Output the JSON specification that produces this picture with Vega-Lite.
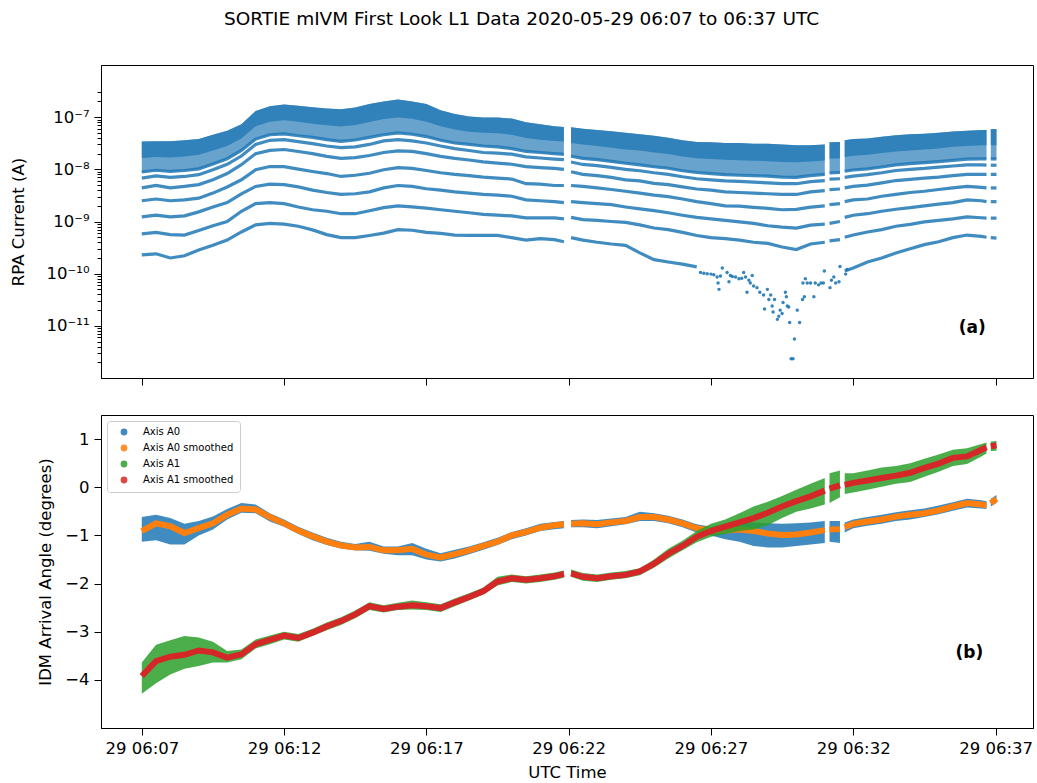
{
"$schema":"https://vega.github.io/schema/vega-lite/v6.json",
"padding":{"left":9,"top":10,"right":0,"bottom":0},
"title":{"text":"SORTIE mIVM First Look L1 Data 2020-05-29 06:07 to 06:37 UTC","fontSize":18.5,"fontWeight":"normal","font":"DejaVu Sans","anchor":"middle","frame":"bounds","offset":36,"color":"black"},
"config":{"font":"DejaVu Sans","view":{"stroke":"black","strokeWidth":1},"axis":{"domainColor":"black","tickColor":"black","labelColor":"black","titleColor":"black","labelFontSize":16.5,"titleFontSize":16.5,"titleFontWeight":"normal","labelFont":"DejaVu Sans","titleFont":"DejaVu Sans","grid":false,"tickSize":7,"labelPadding":5},"concat":{"spacing":28}},
"resolve":{"scale":{"color":"independent"},"legend":{"color":"independent"}},
"datasets":{
"rpa":[
{"t":"2020-05-29 06:07:00","s":"A","top":3.4e-8,"m":1.65e-8,"l6":8.9e-9,"l5":6.8e-9,"l4":4.4e-9,"l3":2.5e-9,"l2":1.23e-9,"l1":5.8e-10,"l0":2.3e-10},
{"t":"2020-05-29 06:07:30","s":"A","top":3.45e-8,"m":1.73e-8,"l6":9.6e-9,"l5":7.5e-9,"l4":4.9e-9,"l3":2.7e-9,"l2":1.33e-9,"l1":6.2e-10,"l0":2.4e-10},
{"t":"2020-05-29 06:08:00","s":"A","top":3.45e-8,"m":1.68e-8,"l6":9.1e-9,"l5":7.0e-9,"l4":4.4e-9,"l3":2.5e-9,"l2":1.23e-9,"l1":5.6e-10,"l0":2.0e-10},
{"t":"2020-05-29 06:08:30","s":"A","top":3.6e-8,"m":1.76e-8,"l6":9.5e-9,"l5":7.3e-9,"l4":4.7e-9,"l3":2.6e-9,"l2":1.28e-9,"l1":5.5e-10,"l0":2.2e-10},
{"t":"2020-05-29 06:09:00","s":"A","top":3.8e-8,"m":1.9e-8,"l6":1.02e-8,"l5":7.9e-9,"l4":5.1e-9,"l3":2.8e-9,"l2":1.53e-9,"l1":6.7e-10,"l0":2.85e-10},
{"t":"2020-05-29 06:09:30","s":"A","top":4.6e-8,"m":2.3e-8,"l6":1.26e-8,"l5":9.8e-9,"l4":6.3e-9,"l3":3.5e-9,"l2":1.9e-9,"l1":8.3e-10,"l0":3.5e-10},
{"t":"2020-05-29 06:10:00","s":"A","top":5.5e-8,"m":2.8e-8,"l6":1.6e-8,"l5":1.25e-8,"l4":8.3e-9,"l3":4.6e-9,"l2":2.3e-9,"l1":1.0e-9,"l0":4.4e-10},
{"t":"2020-05-29 06:10:30","s":"A","top":7.3e-8,"m":3.9e-8,"l6":2.3e-8,"l5":1.8e-8,"l4":1.23e-8,"l3":6.3e-9,"l2":3.4e-9,"l1":1.57e-9,"l0":6.3e-10},
{"t":"2020-05-29 06:11:00","s":"A","top":1.31e-7,"m":6.7e-8,"l6":3.8e-8,"l5":3.0e-8,"l4":2.0e-8,"l3":9.8e-9,"l2":4.7e-9,"l1":2.2e-9,"l0":8.6e-10},
{"t":"2020-05-29 06:11:30","s":"A","top":1.62e-7,"m":8.2e-8,"l6":4.6e-8,"l5":3.6e-8,"l4":2.3e-8,"l3":1.13e-8,"l2":5.2e-9,"l1":2.3e-9,"l0":9.2e-10},
{"t":"2020-05-29 06:12:00","s":"A","top":1.75e-7,"m":8.7e-8,"l6":4.8e-8,"l5":3.7e-8,"l4":2.4e-8,"l3":1.13e-8,"l2":5.1e-9,"l1":2.2e-9,"l0":8.9e-10},
{"t":"2020-05-29 06:12:30","s":"A","top":1.66e-7,"m":8.2e-8,"l6":4.4e-8,"l5":3.4e-8,"l4":2.2e-8,"l3":1.01e-8,"l2":4.6e-9,"l1":1.9e-9,"l0":8.1e-10},
{"t":"2020-05-29 06:13:00","s":"A","top":1.55e-7,"m":7.5e-8,"l6":4.1e-8,"l5":3.1e-8,"l4":2.0e-8,"l3":9.1e-9,"l2":4.0e-9,"l1":1.68e-9,"l0":6.9e-10},
{"t":"2020-05-29 06:13:30","s":"A","top":1.47e-7,"m":7.0e-8,"l6":3.7e-8,"l5":2.8e-8,"l4":1.77e-8,"l3":8.3e-9,"l2":3.6e-9,"l1":1.57e-9,"l0":5.6e-10},
{"t":"2020-05-29 06:14:00","s":"A","top":1.42e-7,"m":6.6e-8,"l6":3.45e-8,"l5":2.6e-8,"l4":1.62e-8,"l3":7.3e-9,"l2":3.3e-9,"l1":1.41e-9,"l0":4.9e-10},
{"t":"2020-05-29 06:14:30","s":"A","top":1.53e-7,"m":7.1e-8,"l6":3.65e-8,"l5":2.7e-8,"l4":1.68e-8,"l3":7.7e-9,"l2":3.4e-9,"l1":1.41e-9,"l0":4.9e-10},
{"t":"2020-05-29 06:15:00","s":"A","top":1.78e-7,"m":8.1e-8,"l6":4.1e-8,"l5":3.0e-8,"l4":1.84e-8,"l3":8.4e-9,"l2":3.7e-9,"l1":1.61e-9,"l0":5.4e-10},
{"t":"2020-05-29 06:15:30","s":"A","top":2.0e-7,"m":9.2e-8,"l6":4.6e-8,"l5":3.5e-8,"l4":2.1e-8,"l3":9.8e-9,"l2":4.4e-9,"l1":1.84e-9,"l0":6.0e-10},
{"t":"2020-05-29 06:16:00","s":"A","top":2.17e-7,"m":9.8e-8,"l6":5.0e-8,"l5":3.7e-8,"l4":2.25e-8,"l3":1.08e-8,"l2":4.9e-9,"l1":2.0e-9,"l0":7.0e-10},
{"t":"2020-05-29 06:16:30","s":"A","top":2.0e-7,"m":9.3e-8,"l6":4.7e-8,"l5":3.5e-8,"l4":2.2e-8,"l3":1.04e-8,"l2":4.7e-9,"l1":1.9e-9,"l0":6.8e-10},
{"t":"2020-05-29 06:17:00","s":"A","top":1.78e-7,"m":8.2e-8,"l6":4.25e-8,"l5":3.2e-8,"l4":2.0e-8,"l3":9.5e-9,"l2":4.25e-9,"l1":1.8e-9,"l0":6.2e-10},
{"t":"2020-05-29 06:17:30","s":"A","top":1.36e-7,"m":6.7e-8,"l6":3.6e-8,"l5":2.8e-8,"l4":1.77e-8,"l3":8.6e-9,"l2":4.0e-9,"l1":1.68e-9,"l0":5.9e-10},
{"t":"2020-05-29 06:18:00","s":"A","top":1.15e-7,"m":5.8e-8,"l6":3.2e-8,"l5":2.5e-8,"l4":1.62e-8,"l3":8.0e-9,"l2":3.7e-9,"l1":1.57e-9,"l0":5.5e-10},
{"t":"2020-05-29 06:18:30","s":"A","top":1.03e-7,"m":5.25e-8,"l6":3.0e-8,"l5":2.3e-8,"l4":1.51e-8,"l3":7.6e-9,"l2":3.5e-9,"l1":1.47e-9,"l0":5.4e-10},
{"t":"2020-05-29 06:19:00","s":"A","top":9.9e-8,"m":5.0e-8,"l6":2.8e-8,"l5":2.1e-8,"l4":1.39e-8,"l3":7.1e-9,"l2":3.3e-9,"l1":1.37e-9,"l0":5.4e-10},
{"t":"2020-05-29 06:19:30","s":"A","top":9.8e-8,"m":4.9e-8,"l6":2.7e-8,"l5":2.05e-8,"l4":1.32e-8,"l3":6.8e-9,"l2":3.2e-9,"l1":1.33e-9,"l0":5.4e-10},
{"t":"2020-05-29 06:20:00","s":"A","top":9.4e-8,"m":4.6e-8,"l6":2.5e-8,"l5":1.95e-8,"l4":1.25e-8,"l3":6.5e-9,"l2":3.05e-9,"l1":1.28e-9,"l0":4.9e-10},
{"t":"2020-05-29 06:20:30","s":"A","top":8.0e-8,"m":4.0e-8,"l6":2.2e-8,"l5":1.73e-8,"l4":1.13e-8,"l3":5.3e-9,"l2":2.6e-9,"l1":1.17e-9,"l0":4.4e-10},
{"t":"2020-05-29 06:21:00","s":"A","top":7.3e-8,"m":3.7e-8,"l6":2.1e-8,"l5":1.65e-8,"l4":1.08e-8,"l3":5.2e-9,"l2":2.5e-9,"l1":1.17e-9,"l0":4.7e-10},
{"t":"2020-05-29 06:21:30","s":"A","top":6.7e-8,"m":3.5e-8,"l6":2.0e-8,"l5":1.57e-8,"l4":1.04e-8,"l3":4.9e-9,"l2":2.4e-9,"l1":1.17e-9,"l0":4.5e-10},
{"t":"2020-05-29 06:21:50","s":"A","top":6.5e-8,"m":3.4e-8,"l6":1.94e-8,"l5":1.53e-8,"l4":1.0e-8,"l3":4.9e-9,"l2":2.3e-9,"l1":1.12e-9,"l0":4.1e-10},
{"t":"2020-05-29 06:22:05","s":"B","top":6.4e-8,"m":3.2e-8,"l6":1.78e-8,"l5":1.38e-8,"l4":9.0e-9,"l3":4.9e-9,"l2":2.4e-9,"l1":1.2e-9,"l0":4.9e-10},
{"t":"2020-05-29 06:22:30","s":"B","top":6.0e-8,"m":3.0e-8,"l6":1.62e-8,"l5":1.24e-8,"l4":8.0e-9,"l3":4.7e-9,"l2":2.3e-9,"l1":1.09e-9,"l0":4.4e-10},
{"t":"2020-05-29 06:23:00","s":"B","top":5.65e-8,"m":2.8e-8,"l6":1.53e-8,"l5":1.18e-8,"l4":7.6e-9,"l3":4.4e-9,"l2":2.2e-9,"l1":1.05e-9,"l0":4.0e-10},
{"t":"2020-05-29 06:23:30","s":"B","top":5.4e-8,"m":2.6e-8,"l6":1.42e-8,"l5":1.09e-8,"l4":7.0e-9,"l3":4.1e-9,"l2":2.1e-9,"l1":1.0e-9,"l0":3.7e-10},
{"t":"2020-05-29 06:24:00","s":"B","top":5.0e-8,"m":2.4e-8,"l6":1.31e-8,"l5":1.0e-8,"l4":6.3e-9,"l3":3.8e-9,"l2":1.9e-9,"l1":9.6e-10,"l0":3.5e-10},
{"t":"2020-05-29 06:24:30","s":"B","top":4.7e-8,"m":2.3e-8,"l6":1.22e-8,"l5":9.4e-9,"l4":6.0e-9,"l3":3.5e-9,"l2":1.74e-9,"l1":8.6e-10,"l0":2.5e-10},
{"t":"2020-05-29 06:25:00","s":"B","top":4.4e-8,"m":2.1e-8,"l6":1.12e-8,"l5":8.6e-9,"l4":5.4e-9,"l3":3.2e-9,"l2":1.61e-9,"l1":7.5e-10,"l0":1.86e-10},
{"t":"2020-05-29 06:25:30","s":"B","top":4.05e-8,"m":1.96e-8,"l6":1.05e-8,"l5":8.0e-9,"l4":5.1e-9,"l3":3.0e-9,"l2":1.47e-9,"l1":7.0e-10,"l0":1.67e-10},
{"t":"2020-05-29 06:26:00","s":"B","top":3.6e-8,"m":1.76e-8,"l6":9.4e-9,"l5":7.2e-9,"l4":4.6e-9,"l3":2.7e-9,"l2":1.32e-9,"l1":6.2e-10,"l0":1.52e-10},
{"t":"2020-05-29 06:26:30","s":"B","top":3.35e-8,"m":1.63e-8,"l6":8.7e-9,"l5":6.6e-9,"l4":4.2e-9,"l3":2.4e-9,"l2":1.2e-9,"l1":5.4e-10,"l0":1.35e-10},
{"t":"2020-05-29 06:27:00","s":"B","top":3.3e-8,"m":1.57e-8,"l6":8.3e-9,"l5":6.3e-9,"l4":4.0e-9,"l3":2.2e-9,"l2":1.12e-9,"l1":4.9e-10,"l0":null},
{"t":"2020-05-29 06:27:30","s":"B","top":3.2e-8,"m":1.52e-8,"l6":7.9e-9,"l5":6.0e-9,"l4":3.7e-9,"l3":2.0e-9,"l2":1.05e-9,"l1":4.7e-10,"l0":null},
{"t":"2020-05-29 06:28:00","s":"B","top":3.2e-8,"m":1.49e-8,"l6":7.7e-9,"l5":5.9e-9,"l4":3.6e-9,"l3":1.97e-9,"l2":9.8e-10,"l1":4.4e-10,"l0":null},
{"t":"2020-05-29 06:28:30","s":"B","top":3.1e-8,"m":1.46e-8,"l6":7.6e-9,"l5":5.7e-9,"l4":3.5e-9,"l3":1.87e-9,"l2":9.2e-10,"l1":4.0e-10,"l0":null},
{"t":"2020-05-29 06:29:00","s":"B","top":3.1e-8,"m":1.43e-8,"l6":7.4e-9,"l5":5.5e-9,"l4":3.4e-9,"l3":1.79e-9,"l2":8.3e-10,"l1":3.8e-10,"l0":null},
{"t":"2020-05-29 06:29:30","s":"B","top":3.0e-8,"m":1.38e-8,"l6":7.1e-9,"l5":5.3e-9,"l4":3.3e-9,"l3":1.68e-9,"l2":7.8e-10,"l1":3.25e-10,"l0":null},
{"t":"2020-05-29 06:30:00","s":"B","top":2.9e-8,"m":1.36e-8,"l6":7.0e-9,"l5":5.3e-9,"l4":3.3e-9,"l3":1.71e-9,"l2":7.5e-10,"l1":2.9e-10,"l0":null},
{"t":"2020-05-29 06:30:30","s":"B","top":2.9e-8,"m":1.41e-8,"l6":7.6e-9,"l5":5.8e-9,"l4":3.7e-9,"l3":1.89e-9,"l2":8.5e-10,"l1":3.7e-10,"l0":null},
{"t":"2020-05-29 06:31:00","s":"B","top":3.0e-8,"m":1.47e-8,"l6":8.0e-9,"l5":6.1e-9,"l4":3.9e-9,"l3":2.0e-9,"l2":8.9e-10,"l1":4.0e-10,"l0":null},
{"t":"2020-05-29 06:31:10","s":"C","top":3.3e-8,"m":1.6e-8,"l6":8.5e-9,"l5":6.5e-9,"l4":4.1e-9,"l3":2.1e-9,"l2":9.2e-10,"l1":4.25e-10,"l0":null},
{"t":"2020-05-29 06:31:32","s":"C","top":3.35e-8,"m":1.63e-8,"l6":8.7e-9,"l5":6.6e-9,"l4":4.2e-9,"l3":2.2e-9,"l2":1.0e-9,"l1":4.5e-10,"l0":null},
{"t":"2020-05-29 06:31:42","s":"D","top":3.6e-8,"m":1.73e-8,"l6":9.2e-9,"l5":7.0e-9,"l4":4.4e-9,"l3":2.4e-9,"l2":1.2e-9,"l1":5.0e-10,"l0":1.12e-10},
{"t":"2020-05-29 06:32:00","s":"D","top":3.8e-8,"m":1.82e-8,"l6":9.7e-9,"l5":7.4e-9,"l4":4.7e-9,"l3":2.6e-9,"l2":1.32e-9,"l1":5.5e-10,"l0":1.28e-10},
{"t":"2020-05-29 06:32:30","s":"D","top":3.9e-8,"m":1.91e-8,"l6":1.02e-8,"l5":7.9e-9,"l4":5.0e-9,"l3":2.7e-9,"l2":1.41e-9,"l1":6.3e-10,"l0":1.67e-10},
{"t":"2020-05-29 06:33:00","s":"D","top":4.2e-8,"m":2.06e-8,"l6":1.11e-8,"l5":8.6e-9,"l4":5.5e-9,"l3":3.05e-9,"l2":1.57e-9,"l1":7.0e-10,"l0":2.0e-10},
{"t":"2020-05-29 06:33:30","s":"D","top":4.5e-8,"m":2.2e-8,"l6":1.22e-8,"l5":9.5e-9,"l4":6.1e-9,"l3":3.3e-9,"l2":1.72e-9,"l1":8.1e-10,"l0":2.5e-10},
{"t":"2020-05-29 06:34:00","s":"D","top":4.7e-8,"m":2.3e-8,"l6":1.29e-8,"l5":1.0e-8,"l4":6.4e-9,"l3":3.6e-9,"l2":1.84e-9,"l1":8.8e-10,"l0":3.0e-10},
{"t":"2020-05-29 06:34:30","s":"D","top":4.8e-8,"m":2.4e-8,"l6":1.34e-8,"l5":1.04e-8,"l4":6.8e-9,"l3":3.8e-9,"l2":2.0e-9,"l1":9.8e-10,"l0":3.6e-10},
{"t":"2020-05-29 06:35:00","s":"D","top":5.0e-8,"m":2.5e-8,"l6":1.41e-8,"l5":1.1e-8,"l4":7.1e-9,"l3":4.1e-9,"l2":2.15e-9,"l1":1.05e-9,"l0":4.1e-10},
{"t":"2020-05-29 06:35:30","s":"D","top":5.3e-8,"m":2.7e-8,"l6":1.49e-8,"l5":1.16e-8,"l4":7.6e-9,"l3":4.4e-9,"l2":2.3e-9,"l1":1.12e-9,"l0":4.9e-10},
{"t":"2020-05-29 06:36:00","s":"D","top":5.5e-8,"m":2.8e-8,"l6":1.57e-8,"l5":1.22e-8,"l4":8.0e-9,"l3":4.7e-9,"l2":2.6e-9,"l1":1.23e-9,"l0":5.5e-10},
{"t":"2020-05-29 06:36:30","s":"D","top":5.7e-8,"m":2.9e-8,"l6":1.59e-8,"l5":1.22e-8,"l4":8.0e-9,"l3":4.5e-9,"l2":2.5e-9,"l1":1.18e-9,"l0":5.2e-10},
{"t":"2020-05-29 06:36:41","s":"D","top":5.7e-8,"m":2.9e-8,"l6":1.58e-8,"l5":1.2e-8,"l4":8.0e-9,"l3":4.4e-9,"l2":2.4e-9,"l1":1.16e-9,"l0":5.0e-10},
{"t":"2020-05-29 06:36:50","s":"E","top":5.9e-8,"m":2.9e-8,"l6":1.58e-8,"l5":1.2e-8,"l4":8.0e-9,"l3":4.4e-9,"l2":2.4e-9,"l1":1.16e-9,"l0":4.9e-10},
{"t":"2020-05-29 06:37:02","s":"E","top":5.9e-8,"m":2.9e-8,"l6":1.58e-8,"l5":1.2e-8,"l4":8.0e-9,"l3":4.4e-9,"l2":2.4e-9,"l1":1.16e-9,"l0":4.8e-10}
],
"idm":[
{"t":"2020-05-29 06:07:00","s":"A","a0":-0.91,"a0lo":-1.13,"a0hi":-0.62,"a1":-3.92,"a1lo":-4.29,"a1hi":-3.64},
{"t":"2020-05-29 06:07:30","s":"A","a0":-0.75,"a0lo":-1.10,"a0hi":-0.57,"a1":-3.61,"a1lo":-4.07,"a1hi":-3.27},
{"t":"2020-05-29 06:08:00","s":"A","a0":-0.81,"a0lo":-1.19,"a0hi":-0.64,"a1":-3.52,"a1lo":-3.89,"a1hi":-3.18},
{"t":"2020-05-29 06:08:30","s":"A","a0":-0.95,"a0lo":-1.19,"a0hi":-0.76,"a1":-3.48,"a1lo":-3.77,"a1hi":-3.09},
{"t":"2020-05-29 06:09:00","s":"A","a0":-0.85,"a0lo":-1.00,"a0hi":-0.70,"a1":-3.39,"a1lo":-3.71,"a1hi":-3.12},
{"t":"2020-05-29 06:09:30","s":"A","a0":-0.75,"a0lo":-0.88,"a0hi":-0.61,"a1":-3.43,"a1lo":-3.64,"a1hi":-3.21},
{"t":"2020-05-29 06:10:00","s":"A","a0":-0.57,"a0lo":-0.67,"a0hi":-0.45,"a1":-3.54,"a1lo":-3.64,"a1hi":-3.40},
{"t":"2020-05-29 06:10:30","s":"A","a0":-0.44,"a0lo":-0.53,"a0hi":-0.33,"a1":-3.47,"a1lo":-3.57,"a1hi":-3.37},
{"t":"2020-05-29 06:11:00","s":"A","a0":-0.46,"a0lo":-0.54,"a0hi":-0.36,"a1":-3.26,"a1lo":-3.35,"a1hi":-3.16},
{"t":"2020-05-29 06:11:30","s":"A","a0":-0.62,"a0lo":-0.71,"a0hi":-0.54,"a1":-3.17,"a1lo":-3.26,"a1hi":-3.08},
{"t":"2020-05-29 06:12:00","s":"A","a0":-0.75,"a0lo":-0.82,"a0hi":-0.67,"a1":-3.08,"a1lo":-3.16,"a1hi":-3.00},
{"t":"2020-05-29 06:12:30","s":"A","a0":-0.90,"a0lo":-0.97,"a0hi":-0.82,"a1":-3.13,"a1lo":-3.21,"a1hi":-3.05},
{"t":"2020-05-29 06:13:00","s":"A","a0":-1.02,"a0lo":-1.10,"a0hi":-0.94,"a1":-3.02,"a1lo":-3.09,"a1hi":-2.94},
{"t":"2020-05-29 06:13:30","s":"A","a0":-1.13,"a0lo":-1.20,"a0hi":-1.05,"a1":-2.89,"a1lo":-2.97,"a1hi":-2.81},
{"t":"2020-05-29 06:14:00","s":"A","a0":-1.21,"a0lo":-1.27,"a0hi":-1.13,"a1":-2.78,"a1lo":-2.86,"a1hi":-2.70},
{"t":"2020-05-29 06:14:30","s":"A","a0":-1.25,"a0lo":-1.31,"a0hi":-1.18,"a1":-2.64,"a1lo":-2.72,"a1hi":-2.56},
{"t":"2020-05-29 06:15:00","s":"A","a0":-1.24,"a0lo":-1.32,"a0hi":-1.13,"a1":-2.47,"a1lo":-2.55,"a1hi":-2.39},
{"t":"2020-05-29 06:15:30","s":"A","a0":-1.31,"a0lo":-1.38,"a0hi":-1.23,"a1":-2.53,"a1lo":-2.60,"a1hi":-2.45},
{"t":"2020-05-29 06:16:00","s":"A","a0":-1.31,"a0lo":-1.41,"a0hi":-1.23,"a1":-2.48,"a1lo":-2.55,"a1hi":-2.40},
{"t":"2020-05-29 06:16:30","s":"A","a0":-1.28,"a0lo":-1.41,"a0hi":-1.16,"a1":-2.45,"a1lo":-2.54,"a1hi":-2.35},
{"t":"2020-05-29 06:17:00","s":"A","a0":-1.40,"a0lo":-1.50,"a0hi":-1.28,"a1":-2.47,"a1lo":-2.55,"a1hi":-2.39},
{"t":"2020-05-29 06:17:30","s":"A","a0":-1.46,"a0lo":-1.54,"a0hi":-1.37,"a1":-2.51,"a1lo":-2.59,"a1hi":-2.43},
{"t":"2020-05-29 06:18:00","s":"A","a0":-1.39,"a0lo":-1.48,"a0hi":-1.30,"a1":-2.39,"a1lo":-2.47,"a1hi":-2.31},
{"t":"2020-05-29 06:18:30","s":"A","a0":-1.31,"a0lo":-1.39,"a0hi":-1.23,"a1":-2.28,"a1lo":-2.35,"a1hi":-2.20},
{"t":"2020-05-29 06:19:00","s":"A","a0":-1.22,"a0lo":-1.30,"a0hi":-1.14,"a1":-2.16,"a1lo":-2.23,"a1hi":-2.08},
{"t":"2020-05-29 06:19:30","s":"A","a0":-1.13,"a0lo":-1.20,"a0hi":-1.05,"a1":-1.96,"a1lo":-2.04,"a1hi":-1.86},
{"t":"2020-05-29 06:20:00","s":"A","a0":-1.00,"a0lo":-1.08,"a0hi":-0.93,"a1":-1.89,"a1lo":-1.97,"a1hi":-1.81},
{"t":"2020-05-29 06:20:30","s":"A","a0":-0.93,"a0lo":-1.00,"a0hi":-0.85,"a1":-1.92,"a1lo":-2.00,"a1hi":-1.85},
{"t":"2020-05-29 06:21:00","s":"A","a0":-0.84,"a0lo":-0.91,"a0hi":-0.76,"a1":-1.89,"a1lo":-1.97,"a1hi":-1.81},
{"t":"2020-05-29 06:21:30","s":"A","a0":-0.79,"a0lo":-0.87,"a0hi":-0.72,"a1":-1.85,"a1lo":-1.92,"a1hi":-1.77},
{"t":"2020-05-29 06:21:50","s":"A","a0":-0.77,"a0lo":-0.85,"a0hi":-0.70,"a1":-1.80,"a1lo":-1.88,"a1hi":-1.73},
{"t":"2020-05-29 06:22:05","s":"B","a0":-0.76,"a0lo":-0.83,"a0hi":-0.68,"a1":-1.79,"a1lo":-1.86,"a1hi":-1.71},
{"t":"2020-05-29 06:22:30","s":"B","a0":-0.75,"a0lo":-0.83,"a0hi":-0.67,"a1":-1.86,"a1lo":-1.94,"a1hi":-1.78},
{"t":"2020-05-29 06:23:00","s":"B","a0":-0.77,"a0lo":-0.85,"a0hi":-0.68,"a1":-1.89,"a1lo":-1.97,"a1hi":-1.81},
{"t":"2020-05-29 06:23:30","s":"B","a0":-0.73,"a0lo":-0.81,"a0hi":-0.65,"a1":-1.85,"a1lo":-1.92,"a1hi":-1.77},
{"t":"2020-05-29 06:24:00","s":"B","a0":-0.70,"a0lo":-0.77,"a0hi":-0.62,"a1":-1.82,"a1lo":-1.89,"a1hi":-1.74},
{"t":"2020-05-29 06:24:30","s":"B","a0":-0.62,"a0lo":-0.70,"a0hi":-0.51,"a1":-1.75,"a1lo":-1.83,"a1hi":-1.68},
{"t":"2020-05-29 06:25:00","s":"B","a0":-0.62,"a0lo":-0.70,"a0hi":-0.54,"a1":-1.59,"a1lo":-1.67,"a1hi":-1.50},
{"t":"2020-05-29 06:25:30","s":"B","a0":-0.67,"a0lo":-0.75,"a0hi":-0.59,"a1":-1.38,"a1lo":-1.48,"a1hi":-1.28},
{"t":"2020-05-29 06:26:00","s":"B","a0":-0.75,"a0lo":-0.83,"a0hi":-0.67,"a1":-1.22,"a1lo":-1.31,"a1hi":-1.11},
{"t":"2020-05-29 06:26:30","s":"B","a0":-0.85,"a0lo":-0.94,"a0hi":-0.77,"a1":-1.03,"a1lo":-1.14,"a1hi":-0.91},
{"t":"2020-05-29 06:27:00","s":"B","a0":-0.90,"a0lo":-1.00,"a0hi":-0.82,"a1":-0.91,"a1lo":-1.03,"a1hi":-0.76},
{"t":"2020-05-29 06:27:30","s":"B","a0":-0.90,"a0lo":-1.08,"a0hi":-0.75,"a1":-0.82,"a1lo":-0.97,"a1hi":-0.67},
{"t":"2020-05-29 06:28:00","s":"B","a0":-0.88,"a0lo":-1.13,"a0hi":-0.71,"a1":-0.73,"a1lo":-0.91,"a1hi":-0.54},
{"t":"2020-05-29 06:28:30","s":"B","a0":-0.91,"a0lo":-1.22,"a0hi":-0.73,"a1":-0.64,"a1lo":-0.88,"a1hi":-0.40},
{"t":"2020-05-29 06:29:00","s":"B","a0":-0.96,"a0lo":-1.25,"a0hi":-0.75,"a1":-0.53,"a1lo":-0.79,"a1hi":-0.30},
{"t":"2020-05-29 06:29:30","s":"B","a0":-0.99,"a0lo":-1.25,"a0hi":-0.76,"a1":-0.40,"a1lo":-0.64,"a1hi":-0.18},
{"t":"2020-05-29 06:30:00","s":"B","a0":-0.98,"a0lo":-1.22,"a0hi":-0.75,"a1":-0.29,"a1lo":-0.51,"a1hi":-0.05},
{"t":"2020-05-29 06:30:30","s":"B","a0":-0.94,"a0lo":-1.19,"a0hi":-0.73,"a1":-0.19,"a1lo":-0.44,"a1hi":0.07},
{"t":"2020-05-29 06:31:00","s":"B","a0":-0.89,"a0lo":-1.16,"a0hi":-0.70,"a1":-0.07,"a1lo":-0.36,"a1hi":0.19},
{"t":"2020-05-29 06:31:10","s":"C","a0":-0.88,"a0lo":-1.13,"a0hi":-0.70,"a1":-0.03,"a1lo":-0.33,"a1hi":0.29},
{"t":"2020-05-29 06:31:32","s":"C","a0":-0.87,"a0lo":-1.16,"a0hi":-0.70,"a1":0.04,"a1lo":-0.21,"a1hi":0.35},
{"t":"2020-05-29 06:31:42","s":"D","a0":-0.83,"a0lo":-0.94,"a0hi":-0.73,"a1":0.05,"a1lo":-0.14,"a1hi":0.29},
{"t":"2020-05-29 06:32:00","s":"D","a0":-0.76,"a0lo":-0.85,"a0hi":-0.67,"a1":0.09,"a1lo":-0.11,"a1hi":0.29},
{"t":"2020-05-29 06:32:30","s":"D","a0":-0.71,"a0lo":-0.80,"a0hi":-0.62,"a1":0.14,"a1lo":-0.05,"a1hi":0.35},
{"t":"2020-05-29 06:33:00","s":"D","a0":-0.67,"a0lo":-0.76,"a0hi":-0.57,"a1":0.19,"a1lo":0.01,"a1hi":0.41},
{"t":"2020-05-29 06:33:30","s":"D","a0":-0.61,"a0lo":-0.70,"a0hi":-0.52,"a1":0.24,"a1lo":0.07,"a1hi":0.44},
{"t":"2020-05-29 06:34:00","s":"D","a0":-0.57,"a0lo":-0.67,"a0hi":-0.48,"a1":0.30,"a1lo":0.11,"a1hi":0.50},
{"t":"2020-05-29 06:34:30","s":"D","a0":-0.54,"a0lo":-0.62,"a0hi":-0.44,"a1":0.40,"a1lo":0.22,"a1hi":0.59},
{"t":"2020-05-29 06:35:00","s":"D","a0":-0.48,"a0lo":-0.56,"a0hi":-0.38,"a1":0.49,"a1lo":0.32,"a1hi":0.68},
{"t":"2020-05-29 06:35:30","s":"D","a0":-0.40,"a0lo":-0.49,"a0hi":-0.31,"a1":0.61,"a1lo":0.44,"a1hi":0.78},
{"t":"2020-05-29 06:36:00","s":"D","a0":-0.33,"a0lo":-0.42,"a0hi":-0.24,"a1":0.64,"a1lo":0.48,"a1hi":0.81},
{"t":"2020-05-29 06:36:30","s":"D","a0":-0.36,"a0lo":-0.44,"a0hi":-0.27,"a1":0.78,"a1lo":0.64,"a1hi":0.90},
{"t":"2020-05-29 06:36:41","s":"D","a0":-0.38,"a0lo":-0.45,"a0hi":-0.29,"a1":0.83,"a1lo":0.70,"a1hi":0.93},
{"t":"2020-05-29 06:36:50","s":"E","a0":-0.33,"a0lo":-0.40,"a0hi":-0.24,"a1":0.85,"a1lo":0.75,"a1hi":0.95},
{"t":"2020-05-29 06:37:02","s":"E","a0":-0.24,"a0lo":-0.33,"a0hi":-0.16,"a1":0.87,"a1lo":0.76,"a1hi":0.96}
]
},
"vconcat":[
{
"width":932,"height":313,
"data":{"name":"rpa","format":{"parse":{"t":"utc:'%Y-%m-%d %H:%M:%S'"}}},
"encoding":{"x":{"field":"t","type":"temporal","scale":{"type":"utc","domain":[{"year":2020,"month":5,"date":29,"hours":6,"minutes":5,"seconds":34,"utc":true},{"year":2020,"month":5,"date":29,"hours":6,"minutes":38,"seconds":19,"utc":true}]},"axis":{"values":[{"year":2020,"month":5,"date":29,"hours":6,"minutes":7,"utc":true},{"year":2020,"month":5,"date":29,"hours":6,"minutes":12,"utc":true},{"year":2020,"month":5,"date":29,"hours":6,"minutes":17,"utc":true},{"year":2020,"month":5,"date":29,"hours":6,"minutes":22,"utc":true},{"year":2020,"month":5,"date":29,"hours":6,"minutes":27,"utc":true},{"year":2020,"month":5,"date":29,"hours":6,"minutes":32,"utc":true},{"year":2020,"month":5,"date":29,"hours":6,"minutes":37,"utc":true}],"labels":false,"title":null,"tickSize":7}}},
"layer":[
{"mark":{"type":"area","color":"#1f77b4","opacity":0.68},
"encoding":{"y":{"field":"l6","type":"quantitative","scale":{"type":"log","domain":[1.34e-12,3.7e-7]},"axis":{"title":"RPA Current (A)","titlePadding":20,"values":[2e-12,3e-12,4e-12,5e-12,6e-12,7e-12,8e-12,9e-12,1e-11,2e-11,3e-11,4e-11,5e-11,6e-11,7e-11,8e-11,9e-11,1e-10,2e-10,3e-10,4e-10,5e-10,6e-10,7e-10,8e-10,9e-10,1e-9,2e-9,3e-9,4e-9,5e-9,6e-9,7e-9,8e-9,9e-9,1e-8,2e-8,3e-8,4e-8,5e-8,6e-8,7e-8,8e-8,9e-8,1e-7,2e-7,3e-7],"labelExpr":"abs(log(datum.value)/LN10 - round(log(datum.value)/LN10)) > 0.01 ? '' : '10' + ['⁻¹¹','⁻¹⁰','⁻⁹','⁻⁸','⁻⁷'][round(log(datum.value)/LN10) + 11]","tickSize":{"condition":{"test":"abs(log(datum.value)/LN10 - round(log(datum.value)/LN10)) > 0.01","value":4},"value":7}}},"y2":{"field":"top"},"detail":{"field":"s"}}},
{"mark":{"type":"area","color":"#1f77b4","opacity":0.75},
"encoding":{"y":{"field":"m","type":"quantitative"},"y2":{"field":"top"},"detail":{"field":"s"}}},
{"transform":[{"fold":["l0","l1","l2","l3","l4","l5","l6"],"as":["lv","v"]}],
"mark":{"type":"line","color":"#1f77b4","strokeWidth":3.2,"opacity":0.85},
"encoding":{"y":{"field":"v","type":"quantitative"},"detail":[{"field":"lv"},{"field":"s"}]}},
{"data":{"values":[
{"t":"2020-05-29 06:26:38","v":1.05e-10},{"t":"2020-05-29 06:26:45","v":1.02e-10},{"t":"2020-05-29 06:26:52","v":1.0e-10},{"t":"2020-05-29 06:27:00","v":9.8e-11},
{"t":"2020-05-29 06:27:06","v":9.5e-11},{"t":"2020-05-29 06:27:13","v":8.6e-11},{"t":"2020-05-29 06:27:15","v":6.6e-11},{"t":"2020-05-29 06:27:17","v":5.0e-11},
{"t":"2020-05-29 06:27:20","v":9.0e-11},{"t":"2020-05-29 06:27:24","v":1.28e-10},{"t":"2020-05-29 06:27:34","v":1.05e-10},{"t":"2020-05-29 06:27:38","v":7.0e-11},
{"t":"2020-05-29 06:27:41","v":9.2e-11},{"t":"2020-05-29 06:27:45","v":8.8e-11},{"t":"2020-05-29 06:27:52","v":8.6e-11},{"t":"2020-05-29 06:27:59","v":8.0e-11},
{"t":"2020-05-29 06:28:05","v":8.2e-11},{"t":"2020-05-29 06:28:09","v":1.05e-10},{"t":"2020-05-29 06:28:13","v":8.6e-11},{"t":"2020-05-29 06:28:16","v":4.4e-11},
{"t":"2020-05-29 06:28:20","v":7.5e-11},{"t":"2020-05-29 06:28:23","v":6.6e-11},{"t":"2020-05-29 06:28:27","v":9.2e-11},{"t":"2020-05-29 06:28:30","v":5.8e-11},
{"t":"2020-05-29 06:28:37","v":5.4e-11},{"t":"2020-05-29 06:28:43","v":4.4e-11},{"t":"2020-05-29 06:28:51","v":3.9e-11},{"t":"2020-05-29 06:28:53","v":2.1e-11},
{"t":"2020-05-29 06:28:59","v":5.0e-11},{"t":"2020-05-29 06:29:02","v":3.2e-11},{"t":"2020-05-29 06:29:06","v":3.9e-11},{"t":"2020-05-29 06:29:09","v":2.4e-11},
{"t":"2020-05-29 06:29:11","v":1.85e-11},{"t":"2020-05-29 06:29:14","v":3.2e-11},{"t":"2020-05-29 06:29:20","v":1.33e-11},{"t":"2020-05-29 06:29:23","v":1.52e-11},
{"t":"2020-05-29 06:29:26","v":2.0e-11},{"t":"2020-05-29 06:29:30","v":1.73e-11},{"t":"2020-05-29 06:29:32","v":2.8e-11},{"t":"2020-05-29 06:29:37","v":4.4e-11},
{"t":"2020-05-29 06:29:39","v":3.6e-11},{"t":"2020-05-29 06:29:41","v":2.4e-11},{"t":"2020-05-29 06:29:44","v":2.3e-11},{"t":"2020-05-29 06:29:46","v":1.16e-11},
{"t":"2020-05-29 06:29:49","v":2.35e-12},{"t":"2020-05-29 06:29:53","v":2.35e-12},{"t":"2020-05-29 06:29:56","v":5.6e-12},{"t":"2020-05-29 06:30:02","v":2.0e-11},
{"t":"2020-05-29 06:30:07","v":1.16e-11},{"t":"2020-05-29 06:30:13","v":3.2e-11},{"t":"2020-05-29 06:30:14","v":6.6e-11},{"t":"2020-05-29 06:30:17","v":3.6e-11},
{"t":"2020-05-29 06:30:19","v":8.0e-11},{"t":"2020-05-29 06:30:23","v":6.6e-11},{"t":"2020-05-29 06:30:30","v":6.6e-11},{"t":"2020-05-29 06:30:37","v":3.6e-11},
{"t":"2020-05-29 06:30:40","v":6.6e-11},{"t":"2020-05-29 06:30:47","v":6.1e-11},{"t":"2020-05-29 06:30:52","v":6.6e-11},{"t":"2020-05-29 06:30:57","v":6.6e-11},
{"t":"2020-05-29 06:30:59","v":1.12e-10},{"t":"2020-05-29 06:31:11","v":5.4e-11},{"t":"2020-05-29 06:31:14","v":7.5e-11},{"t":"2020-05-29 06:31:19","v":8.6e-11},
{"t":"2020-05-29 06:31:23","v":6.6e-11},{"t":"2020-05-29 06:31:30","v":7.0e-11},{"t":"2020-05-29 06:31:32","v":1.37e-10},{"t":"2020-05-29 06:31:44","v":9.8e-11},
{"t":"2020-05-29 06:31:47","v":1.2e-10}
],"format":{"parse":{"t":"utc:'%Y-%m-%d %H:%M:%S'"}}},
"mark":{"type":"point","filled":true,"color":"#1f77b4","size":12,"opacity":0.9},
"encoding":{"y":{"field":"v","type":"quantitative"}}},
{"data":{"values":[{"t":"2020-05-29 06:36:11","v":8.9e-12,"label":"(a)"}],"format":{"parse":{"t":"utc:'%Y-%m-%d %H:%M:%S'"}}},
"mark":{"type":"text","fontSize":17,"fontWeight":"bold","color":"black"},
"encoding":{"y":{"field":"v","type":"quantitative"},"text":{"field":"label"}}}
]
},
{
"width":932,"height":313,
"data":{"name":"idm","format":{"parse":{"t":"utc:'%Y-%m-%d %H:%M:%S'"}}},
"encoding":{"x":{"field":"t","type":"temporal","scale":{"type":"utc","domain":[{"year":2020,"month":5,"date":29,"hours":6,"minutes":5,"seconds":34,"utc":true},{"year":2020,"month":5,"date":29,"hours":6,"minutes":38,"seconds":19,"utc":true}]},"axis":{"values":[{"year":2020,"month":5,"date":29,"hours":6,"minutes":7,"utc":true},{"year":2020,"month":5,"date":29,"hours":6,"minutes":12,"utc":true},{"year":2020,"month":5,"date":29,"hours":6,"minutes":17,"utc":true},{"year":2020,"month":5,"date":29,"hours":6,"minutes":22,"utc":true},{"year":2020,"month":5,"date":29,"hours":6,"minutes":27,"utc":true},{"year":2020,"month":5,"date":29,"hours":6,"minutes":32,"utc":true},{"year":2020,"month":5,"date":29,"hours":6,"minutes":37,"utc":true}],"format":"%d %H:%M","title":"UTC Time","labelPadding":5,"titlePadding":8,"tickSize":7}}},
"layer":[
{"mark":{"type":"area","opacity":0.85},
"encoding":{"y":{"field":"a0lo","type":"quantitative","scale":{"domain":[-4.558,1.206]},"axis":{"title":"IDM Arrival Angle (degrees)","values":[-4,-3,-2,-1,0,1],"format":"d","titlePadding":11}},"y2":{"field":"a0hi"},"detail":{"field":"s"},
"color":{"datum":"Axis A0","type":"nominal","scale":{"domain":["Axis A0","Axis A0 smoothed","Axis A1","Axis A1 smoothed"],"range":["#1f77b4","#ff7f0e","#2ca02c","#d62728"]},"legend":{"title":null,"orient":"top-left","offset":6,"symbolType":"circle","symbolSize":28,"labelFontSize":10,"labelFont":"DejaVu Sans","labelColor":"black","padding":6,"rowPadding":4,"strokeColor":"#cccccc","fillColor":"white","cornerRadius":3,"labelOffset":14,"symbolOffset":6}}}},
{"mark":{"type":"line","strokeWidth":6},
"encoding":{"y":{"field":"a0","type":"quantitative"},"detail":{"field":"s"},"color":{"datum":"Axis A0 smoothed","type":"nominal"}}},
{"mark":{"type":"area","opacity":0.85},
"encoding":{"y":{"field":"a1lo","type":"quantitative"},"y2":{"field":"a1hi"},"detail":{"field":"s"},"color":{"datum":"Axis A1","type":"nominal"}}},
{"mark":{"type":"line","strokeWidth":6},
"encoding":{"y":{"field":"a1","type":"quantitative"},"detail":{"field":"s"},"color":{"datum":"Axis A1 smoothed","type":"nominal"}}},
{"data":{"values":[{"t":"2020-05-29 06:36:05","v":-3.435,"label":"(b)"}],"format":{"parse":{"t":"utc:'%Y-%m-%d %H:%M:%S'"}}},
"mark":{"type":"text","fontSize":17,"fontWeight":"bold","color":"black"},
"encoding":{"y":{"field":"v","type":"quantitative"},"text":{"field":"label"}}}
]
}
]
}
